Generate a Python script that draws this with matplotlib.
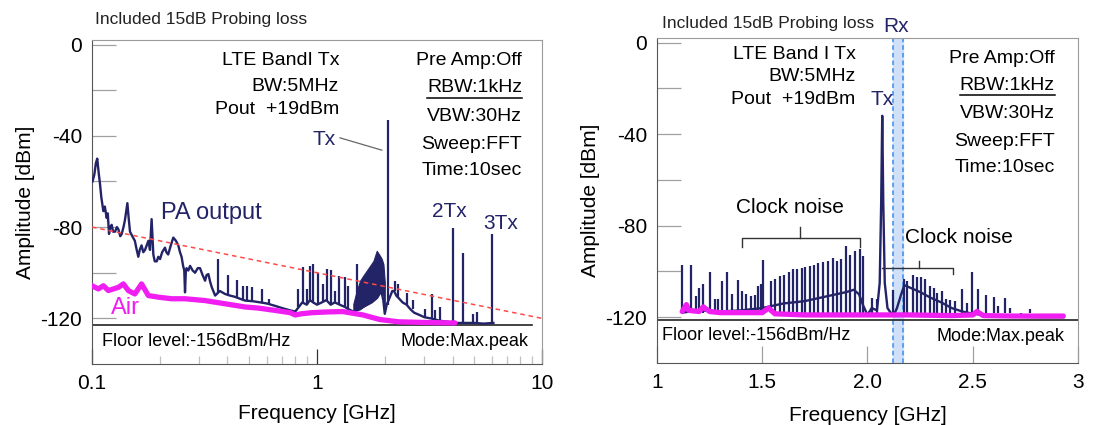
import matplotlib
matplotlib.use("Agg")
import matplotlib.pyplot as plt
from matplotlib.ticker import NullFormatter

plt.rcParams['font.family'] = ['Liberation Sans', 'DejaVu Sans']

NAVY = '#232368'
AIR = '#f01ef0'
TICK_GREY = '#a0a0a0'

# ---------------- shared amplitude axis ----------------
amp_major = [0, -40, -80, -120]
amp_minor = [-20, -60, -100]

# ---------------- wideband sweep, 0.1 - 10 GHz ----------------
wide_pa_freq = [0.1005, 0.1024, 0.1040, 0.1055, 0.1070, 0.1085, 0.1100, 0.1123, 0.1140,
                0.1162, 0.1175, 0.1190, 0.1205, 0.1223, 0.1240, 0.1266, 0.1290, 0.1310,
                0.1335, 0.1355, 0.1380, 0.1400, 0.1436, 0.1455, 0.1475, 0.1510, 0.1550,
                0.1580, 0.1606, 0.1630, 0.1660, 0.1690, 0.1720, 0.1750, 0.1780, 0.1810,
                0.1840, 0.1873, 0.1900, 0.1940, 0.1970, 0.2006, 0.2050, 0.2110, 0.2140,
                0.2180, 0.2240, 0.2297, 0.2360, 0.2418, 0.2460, 0.2500, 0.2540, 0.2570,
                0.2590, 0.2610, 0.2630, 0.2680, 0.2727, 0.2800, 0.2870, 0.2950, 0.3020,
                0.3100, 0.3180, 0.3230, 0.3290, 0.3350, 0.3407, 0.3525, 0.3700, 0.3900,
                0.4100, 0.4300, 0.4545, 0.4790, 0.5200, 0.5600, 0.6000, 0.6500, 0.7000,
                0.7600, 0.8000, 0.8300, 0.8600, 0.9000, 0.9300, 0.9600, 1.0000, 1.0500,
                1.1000, 1.1500, 1.2000, 1.2600, 1.3300, 1.3800, 1.4500, 1.6000, 1.7500,
                1.8500, 1.9300, 1.9700, 2.0000, 2.0400, 2.0800, 2.1200, 2.1600, 2.2000,
                2.2500, 2.3000, 2.4000, 2.5000, 2.6000, 2.7000, 2.8500, 3.0000, 3.2000,
                3.5000, 3.8000, 4.0000, 4.5000, 5.0000, 5.5000, 6.0800]
wide_pa_db = [-60, -57, -52, -50, -56, -61, -67, -73, -71,
              -76, -74, -83, -80, -79, -82, -82, -80, -81,
              -84, -83, -80, -77, -69.5, -76, -82, -84, -86,
              -90, -93, -90, -88, -91, -90, -88, -86, -90,
              -76.5, -92, -95, -95, -93, -94, -91, -89, -91,
              -92, -88, -84.6, -86, -88, -91, -93, -97, -99,
              -108.6, -100, -98, -99, -97, -99, -100, -98, -98,
              -101, -103.5, -101, -100.6, -104, -106.4, -110, -108, -109.3,
              -110, -110.5, -111.4, -112.2, -112.5, -113, -113.5, -114.5, -115.5,
              -116.5, -117, -115, -113, -114, -112, -113, -114, -113,
              -112, -114, -113, -114, -115, -116, -117, -115, -113,
              -111, -108, -112, -118, -114, -112, -110, -108, -108,
              -110, -111, -113, -114, -116, -117.5, -118.5, -119.5, -120,
              -121, -121.5, -122, -122, -122, -122.3, -122]

wide_spur_freq = [0.3617, 0.4035, 0.4400, 0.4706, 0.4900, 0.5125, 0.5677, 0.6138, 0.8260,
                  0.8637, 0.8999, 0.9309, 0.9630, 1.0140, 1.0600, 1.1110, 1.1500, 1.2020,
                  1.2570, 1.3320, 1.3780, 1.5010, 2.0600, 2.1470, 2.2220, 2.2990, 2.5040,
                  2.6790, 3.0200, 3.2340, 3.3460, 3.5220, 4.0360, 4.4400, 4.9500, 5.1600,
                  5.9760]
wide_spur_top = [-94, -101, -103, -106, -106, -106.4, -107, -111.4, -107,
                 -97.7, -107, -97, -96.2, -100, -105, -98.4, -98.8, -107.8,
                 -101.3, -102, -105.7, -96.2, -33, -107.8, -103.5, -104.9, -109,
                 -112, -115.8, -109.3, -116.5, -115, -80.3, -91.2, -118, -117,
                 -83.2]
wide_spur_base = [-109, -110, -111, -112, -112.5, -112.5, -113, -113.5, -115,
                  -113, -114, -112, -113, -114, -113, -112, -114, -113,
                  -114, -115, -116, -116, -114, -108, -108, -111, -114,
                  -116, -119.5, -120, -120.5, -121, -122, -122, -122, -122,
                  -122]

# dense clock-noise comb just below the Tx carrier
wide_comb_freq = [1.45, 1.50, 1.553, 1.60, 1.663, 1.72, 1.781, 1.842, 1.905, 1.94, 1.972, 2.0]
wide_comb_top = [-113.6, -108, -103.5, -101.5, -99.1, -97, -94.8, -90.4, -92.6, -94, -96.2, -104]
wide_comb_base = [-117, -116.5, -116, -115, -114, -113, -112, -110.5, -108.5, -108, -110, -117]

wide_air_freq = [0.1, 0.1066, 0.1123, 0.1182, 0.1244, 0.131, 0.1378, 0.145, 0.155, 0.166,
                 0.178, 0.197, 0.226, 0.259, 0.318, 0.39, 0.479, 0.55, 0.65, 0.76,
                 0.80, 0.85, 0.95, 1.1, 1.3, 1.6, 1.9, 2.3, 3.0, 4.1]
wide_air_db = [-105.7, -107.1, -105.7, -107.8, -107.1, -106.4, -104.9, -107.8, -109.3, -104.9,
               -110, -110.7, -111.4, -111.4, -112.2, -113.6, -115, -115.5, -116.5, -117.5,
               -118.5, -118, -117.5, -117.2, -117, -118.5, -120.5, -121.5, -121.8, -122]

wide_limit_freq = [0.1, 10]
wide_limit_db = [-80, -120]
wide_floor_db = -122.8
wide_floor_span = [0.1, 9.0]

wide_xticks = [0.1, 1, 10]
wide_xlabels = ['0.1', '1', '10']
wide_xminor = [0.2, 0.3, 0.4, 0.5, 0.6, 0.7, 0.8, 0.9, 2, 3, 4, 5, 6, 7, 8, 9]

# ---------------- zoomed sweep, 1 - 3 GHz ----------------
zoom_pa_freq = [1.12, 1.2, 1.3, 1.4, 1.45, 1.5, 1.55, 1.6, 1.65, 1.7, 1.75, 1.8, 1.85, 1.9,
                1.935, 1.96, 1.98, 2.0, 2.02, 2.045, 2.058, 2.065, 2.07, 2.075, 2.082, 2.095,
                2.11, 2.125, 2.14, 2.16, 2.175, 2.2, 2.25, 2.3, 2.35, 2.4, 2.45, 2.5, 2.6,
                2.8, 2.93]
zoom_pa_db = [-118, -117, -117.5, -117, -116.5, -116, -115, -114, -113.5, -113, -112, -111,
              -110, -109, -108, -110, -115, -119, -116, -117, -105, -70, -32, -70, -105,
              -116, -118, -119, -116, -110, -106, -107, -109, -111.5, -113.5, -116, -117.5,
              -118.5, -119.5, -120, -120]

zoom_spur_freq = [1.118, 1.162, 1.186, 1.202, 1.219, 1.251, 1.276, 1.291, 1.309, 1.332,
                  1.357, 1.384, 1.405, 1.422, 1.446, 1.465, 1.482, 1.492, 1.505, 1.540,
                  1.563, 1.584, 1.605, 1.625, 1.645, 1.665, 1.687, 1.705, 1.725, 1.747,
                  1.767, 1.791, 1.811, 1.836, 1.856, 1.876, 1.898, 1.918, 1.941, 1.963,
                  1.981, 2.021, 2.044, 2.121, 2.175, 2.190, 2.214, 2.234, 2.255, 2.275,
                  2.295, 2.314, 2.332, 2.352, 2.372, 2.394, 2.414, 2.450, 2.471, 2.496,
                  2.527, 2.561, 2.599, 2.622, 2.653, 2.676, 2.730, 2.774]
zoom_spur_top = [-97, -97, -110.7, -107.1, -105.7, -100.3, -112.2, -112.2, -104.2, -100.3,
                 -110, -103.8, -108.6, -110, -110.7, -110.4, -106.4, -105.7, -95.2, -104.2,
                 -103.5, -102, -101.7, -100.3, -99.1, -98.8, -98.4, -98.1, -97.7, -97,
                 -96.2, -95.9, -95.5, -94.1, -95.5, -94.5, -89, -92.6, -91.2, -90.4,
                 -93.3, -111.4, -111.9, -108, -103.5, -104.2, -101.7, -102.3, -102.6, -103.5,
                 -106.4, -107.1, -109.3, -108.6, -112.2, -112.5, -112.9, -107.8, -113.6, -100.3,
                 -107.8, -110.4, -111, -115, -111.5, -115.8, -118.5, -116.5]
zoom_spur_floor = -118

zoom_air_freq = [1.12, 1.13, 1.14, 1.15, 1.2, 1.22, 1.25, 1.3, 1.4, 1.5, 1.53, 1.56, 1.7,
                 1.8, 2.0, 2.2, 2.4, 2.5, 2.52, 2.55, 2.7, 2.93]
zoom_air_db = [-117.5, -116, -114.5, -117, -117.5, -115.5, -117.5, -118, -118, -118, -116,
               -118.5, -119, -119, -119, -119, -119.3, -119, -117.5, -119.3, -119.5, -119.5]

zoom_floor_db = -121
zoom_rx_band = [2.12, 2.17]

zoom_xticks = [1, 1.5, 2.0, 2.5, 3]
zoom_xlabels = ['1', '1.5', '2.0', '2.5', '3']

# ---------------- figure ----------------
fig = plt.figure(figsize=(11.06, 4.25), dpi=100)
ax1 = fig.add_axes([0.0832, 0.1435, 0.4069, 0.7624])
ax2 = fig.add_axes([0.5940, 0.1459, 0.3807, 0.7647])


def style_amplitude(ax):
    ax.set_ylim(-140, 2)
    ax.set_yticks(amp_major)
    ax.set_yticklabels([str(v) for v in amp_major])
    ax.set_yticks(amp_minor, minor=True)
    ax.tick_params(axis='y', which='both', direction='in', length=17, width=0.9,
                   color=TICK_GREY, labelsize=15, pad=7)
    for s in ('top', 'right'):
        ax.spines[s].set_color('#9a9a9a')
    for s in ('left', 'bottom'):
        ax.spines[s].set_color('#555555')
    ax.set_ylabel('Amplitude [dBm]', fontsize=15, labelpad=4)


def underline(ax, txt):
    fig.canvas.draw()
    bb = txt.get_window_extent().transformed(ax.transAxes.inverted())
    ax.plot([bb.x0, bb.x1], [bb.y0 - 0.005, bb.y0 - 0.005], color='black', lw=1.1,
            transform=ax.transAxes, clip_on=False)


# ---- left panel ----
ax1.set_xscale('log')
ax1.set_xlim(0.1, 10)
style_amplitude(ax1)
ax1.set_xticks(wide_xticks)
ax1.set_xticklabels(wide_xlabels)
ax1.set_xticks(wide_xminor, minor=True)
ax1.xaxis.set_minor_formatter(NullFormatter())
ax1.tick_params(axis='x', which='major', direction='in', length=11, width=0.9,
                color='#333333', labelsize=15, pad=7)
ax1.tick_params(axis='x', which='minor', direction='in', length=6, width=0.9,
                color='#c0c0c0')
ax1.set_xlabel('Frequency [GHz]', fontsize=15, labelpad=8)

ax1.plot(wide_floor_span, [wide_floor_db, wide_floor_db], color='#222222', lw=1.2, zorder=2)
ax1.fill_between(wide_comb_freq, wide_comb_base, wide_comb_top, color=NAVY, lw=0.8, zorder=3)
ax1.plot(wide_pa_freq, wide_pa_db, color=NAVY, lw=1.7, zorder=3)
ax1.vlines(wide_spur_freq, wide_spur_base, wide_spur_top, color=NAVY, lw=1.6, zorder=3)
ax1.plot(wide_air_freq, wide_air_db, color=AIR, lw=3.8, zorder=4, solid_capstyle='round')
ax1.plot(wide_limit_freq, wide_limit_db, color='#ff4a4a', lw=1.1, ls=(0, (3, 2.5)), zorder=5)

T = ax1.transAxes
ax1.text(0.0067, 1.062, 'Included 15dB Probing loss', transform=T, fontsize=12.5,
         va='center', ha='left', color='#222222')
for y, s in zip([0.938, 0.855, 0.787], ['LTE BandI Tx', 'BW:5MHz', 'Pout  +19dBm']):
    ax1.text(0.549, y, s, transform=T, fontsize=14, ha='right', va='center')
cfg = ['Pre Amp:Off', 'RBW:1kHz', 'VBW:30Hz', 'Sweep:FFT', 'Time:10sec']
cfg_y1 = [0.938, 0.852, 0.765, 0.679, 0.596]
cfg_txt1 = [ax1.text(0.956, y, s, transform=T, fontsize=14, ha='right', va='center')
            for y, s in zip(cfg_y1, cfg)]
ax1.text(0.542, 0.694, 'Tx', transform=T, fontsize=15, ha='right', va='center', color=NAVY)
ax1.plot([0.551, 0.644], [0.698, 0.660], color='#666666', lw=0.9, transform=T)
ax1.text(0.793, 0.472, '2Tx', transform=T, fontsize=15, ha='center', va='center', color=NAVY)
ax1.text(0.909, 0.435, '3Tx', transform=T, fontsize=15, ha='center', va='center', color=NAVY)
ax1.text(0.153, 0.466, 'PA output', transform=T, fontsize=17, ha='left', va='center', color=NAVY)
ax1.text(0.042, 0.173, 'Air', transform=T, fontsize=17, ha='left', va='center', color=AIR)
ax1.text(0.022, 0.068, 'Floor level:-156dBm/Hz', transform=T, fontsize=13, ha='left', va='center')
ax1.text(0.971, 0.068, 'Mode:Max.peak', transform=T, fontsize=13, ha='right', va='center')

# ---- right panel ----
ax2.set_xlim(1, 3)
style_amplitude(ax2)
ax2.set_xticks(zoom_xticks)
ax2.set_xticklabels(zoom_xlabels)
ax2.tick_params(axis='x', which='major', direction='in', length=12, width=0.9,
                color=TICK_GREY, labelsize=15, pad=7)
ax2.set_xlabel('Frequency [GHz]', fontsize=15, labelpad=10)

ax2.axvspan(zoom_rx_band[0], zoom_rx_band[1], color='#cfe0f8', zorder=1)
for f in zoom_rx_band:
    ax2.axvline(f, color='#3a8ef0', lw=1.1, ls=(0, (3, 2)), zorder=1.5)
ax2.axhline(zoom_floor_db, color='#222222', lw=1.2, zorder=2)
ax2.vlines(zoom_spur_freq, zoom_spur_floor, zoom_spur_top, color=NAVY, lw=1.6, zorder=3)
ax2.plot(zoom_pa_freq, zoom_pa_db, color=NAVY, lw=1.7, zorder=3)
ax2.plot(zoom_air_freq, zoom_air_db, color=AIR, lw=3.8, zorder=4, solid_capstyle='round')

T2 = ax2.transAxes
ax2.text(0.012, 1.046, 'Included 15dB Probing loss', transform=T2, fontsize=12.5,
         va='center', ha='left', color='#222222')
ax2.text(0.568, 1.034, 'Rx', transform=T2, fontsize=15, ha='center', va='center', color=NAVY)
for y, s in zip([0.948, 0.880, 0.812], ['LTE Band I Tx', 'BW:5MHz', 'Pout  +19dBm']):
    ax2.text(0.472, y, s, transform=T2, fontsize=14, ha='right', va='center')
ax2.text(0.506, 0.812, 'Tx', transform=T2, fontsize=15, ha='left', va='center', color=NAVY)
cfg_y2 = [0.938, 0.855, 0.769, 0.680, 0.600]
cfg_txt2 = [ax2.text(0.945, y, s, transform=T2, fontsize=14, ha='right', va='center')
            for y, s in zip(cfg_y2, cfg)]
ax2.text(0.316, 0.477, 'Clock noise', transform=T2, fontsize=15, ha='center', va='center')
ax2.text(0.589, 0.385, 'Clock noise', transform=T2, fontsize=15, ha='left', va='center')
# braces marking the two clock-noise groups
ax2.plot([0.202, 0.202, 0.482, 0.482], [0.357, 0.385, 0.385, 0.357], color='#333333',
         lw=1.0, transform=T2)
ax2.plot([0.340, 0.340], [0.385, 0.418], color='#333333', lw=1.0, transform=T2)
ax2.plot([0.534, 0.703, 0.703], [0.292, 0.292, 0.274], color='#333333', lw=1.0, transform=T2)
ax2.plot([0.622, 0.622], [0.292, 0.314], color='#333333', lw=1.0, transform=T2)
ax2.text(0.012, 0.086, 'Floor level:-156dBm/Hz', transform=T2, fontsize=13, ha='left', va='center')
ax2.text(0.969, 0.080, 'Mode:Max.peak', transform=T2, fontsize=13, ha='right', va='center')

underline(ax1, cfg_txt1[1])
underline(ax2, cfg_txt2[1])

fig.savefig('out.png', dpi=100)
